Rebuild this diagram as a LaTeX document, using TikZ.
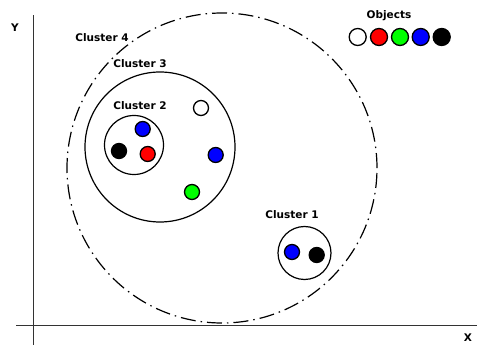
\documentclass[tikz,border=0pt]{standalone}
\usepackage{fontspec}
\setmainfont{DejaVu Sans}
\begin{document}
\begin{tikzpicture}[x=1pt,y=-1pt,
  lbl/.style={font=\bfseries\fontsize{10.5}{12}\selectfont, inner sep=0pt},
  obj/.style={circle, draw=black, line width=1.3pt, minimum size=15pt, inner sep=0pt},
  clus/.style={circle, draw=black, line width=1.2pt, inner sep=0pt},
  axis/.style={draw=black!80, line width=1pt}]
\useasboundingbox (0,0) rectangle (477,347);
\coordinate (yb) at (33,345);
\coordinate (yt) at (33,15);
\coordinate (xl) at (16,326);
\coordinate (xr) at (477,326);
\draw[axis] (yb) -- (yt);
\draw[axis] (xl) -- (xr);
\node[lbl] (Y) at (15,28) {Y};
\node[lbl] (X) at (468,338) {X};
% clusters
\node[clus, minimum size=310pt, dash pattern=on 15pt off 5pt on 1.5pt off 5pt] (c4) at (222,168) {};
\node[clus, minimum size=150pt] (c3) at (160,147) {};
\node[clus, minimum size=59pt] (c2) at (134,145) {};
\node[clus, minimum size=53pt] (c1) at (304.5,253) {};
\node[lbl] (l4) at (102,38) {Cluster 4};
\node[lbl] (l3) at (140,64) {Cluster 3};
\node[lbl] (l2) at (140,106) {Cluster 2};
\node[lbl] (l1) at (292,215) {Cluster 1};
% points
\node[obj, fill=blue] (p1) at (142.7,129) {};
\node[obj, fill=black] (p2) at (119,151) {};
\node[obj, fill=red] (p3) at (147.7,154) {};
\node[obj, fill=white] (p4) at (201,108) {};
\node[obj, fill=blue] (p5) at (215.7,155) {};
\node[obj, fill=green] (p6) at (192,192) {};
\node[obj, fill=blue] (p7) at (292,252) {};
\node[obj, fill=black] (p8) at (316.7,255) {};
% legend
\node[lbl] (lo) at (389,16) {Objects};
\node[obj, fill=white, minimum size=17pt] (o1) at (357.7,37) {};
\node[obj, fill=red, minimum size=17pt] (o2) at (379,37) {};
\node[obj, fill=green, minimum size=17pt] (o3) at (400,37) {};
\node[obj, fill=blue, minimum size=17pt] (o4) at (420.7,37) {};
\node[obj, fill=black, minimum size=17pt] (o5) at (441.7,37) {};
\end{tikzpicture}
\end{document}
